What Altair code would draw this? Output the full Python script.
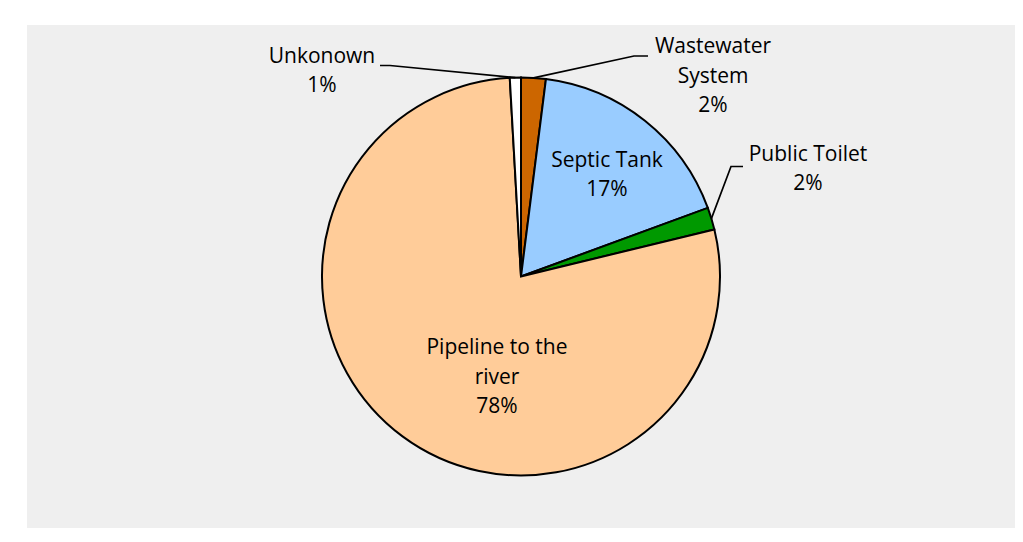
import math
import altair as alt
import pandas as pd

# ---- data ----
categories = ["Wastewater System", "Septic Tank", "Public Toilet", "Pipeline to the river", "Unkonown"]
values = [2.0, 17.4, 1.8, 77.9, 0.9]
percent_labels = ["2%", "17%", "2%", "78%", "1%"]
label_lines = [["Wastewater", "System"], ["Septic Tank"], ["Public Toilet"], ["Pipeline to the", "river"], ["Unkonown"]]
colors = ["#CC6600", "#99CCFF", "#009900", "#FFCC99", "#FFFFFF"]

# ---- layout (pixel positions on the page; converted to offsets from pie centre, y up) ----
W, H = 988, 503
R = 199
FONT = "Open Sans"
FS = 21
LH = 29.5
label_pos = {
    "Wastewater System": (713, 75),
    "Septic Tank": (607, 174),
    "Public Toilet": (808, 168),
    "Pipeline to the river": (497, 376),
    "Unkonown": (322, 70),
}
CX, CY = 521, 275
leader_pts = {
    "Unkonown": [(-131, 211), (-141, 211)],
    "Wastewater System": [(113, 220.5), (127, 220.5)],
    "Public Toilet": [(210, 110), (222, 110)],
}

df = pd.DataFrame({
    "category": categories,
    "value": values,
    "order": list(range(len(categories))),
})

total = sum(values)
cum = 0.0
mid = {}
for c, v in zip(categories, values):
    mid[c] = (cum + v / 2) / total * 2 * math.pi
    cum += v

texts_joined = ["\n".join(lines + [p]) for lines, p in zip(label_lines, percent_labels)]
nlines = [len(lines) + 1 for lines in label_lines]
lab = pd.DataFrame({
    "category": categories,
    "text": texts_joined,
    "lx": [label_pos[c][0] - CX for c in categories],
    # first line position so that the whole block is centred on label_pos
    "ly": [CY - label_pos[c][1] + (n - 1) * LH / 2 for c, n in zip(categories, nlines)],
})

rows = []
for c, pts in leader_pts.items():
    a = mid[c]
    rows.append({"category": c, "seq": 0, "px": R * math.sin(a), "py": R * math.cos(a)})
    for i, (px, py) in enumerate(pts):
        rows.append({"category": c, "seq": i + 1, "px": px, "py": py})
lead = pd.DataFrame(rows)

xs = alt.Scale(domain=[-W / 2, W / 2])
ys = alt.Scale(domain=[-H / 2, H / 2])

arcs = alt.Chart(df).mark_arc(outerRadius=R, stroke="black", strokeWidth=2).encode(
    theta=alt.Theta("value:Q", stack=True),
    color=alt.Color("category:N", scale=alt.Scale(domain=categories, range=colors), legend=None),
    order=alt.Order("order:Q"),
)

lines = alt.Chart(lead).mark_line(color="black", strokeWidth=1.7).encode(
    x=alt.X("px:Q", scale=xs, axis=None),
    y=alt.Y("py:Q", scale=ys, axis=None),
    detail="category:N",
    order=alt.Order("seq:Q"),
)

texts = alt.Chart(lab).mark_text(
    font=FONT, fontSize=FS, lineHeight=LH, lineBreak="\n", color="black",
    align="center", baseline="middle",
).encode(
    x=alt.X("lx:Q", scale=xs, axis=None),
    y=alt.Y("ly:Q", scale=ys, axis=None),
    text="text:N",
)

chart = alt.layer(arcs, lines, texts).properties(
    width=W, height=H, background="white",
    padding={"left": 19, "top": 17, "right": 0, "bottom": 0},
).configure_view(fill="#EFEFEF", strokeWidth=0)

chart.save("out.html", embed_options={"renderer": "svg", "actions": False})
